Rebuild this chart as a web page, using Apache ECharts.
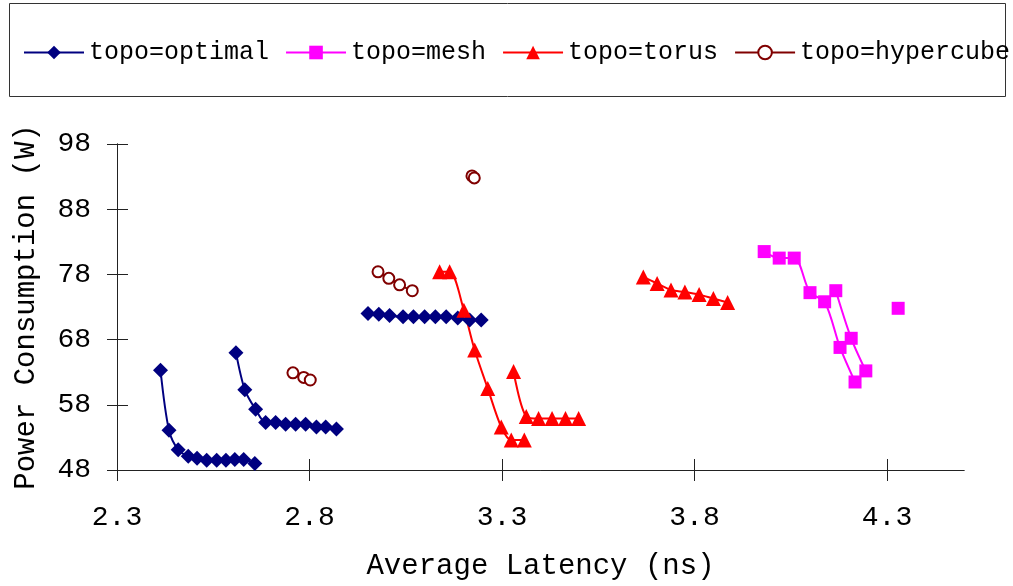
<!DOCTYPE html>
<html>
<head>
<meta charset="utf-8">
<script src="https://cdn.jsdelivr.net/npm/echarts@6/dist/echarts.min.js"></script>
<style>
  html, body { margin: 0; padding: 0; background: #fff; }
  #chart { width: 1013px; height: 586px; }
</style>
</head>
<body>
<div id="chart"></div>
<script>
// null in an x list = gap between line segments
const optimalX = [2.413, 2.435, 2.459, 2.485, 2.508, 2.533, 2.559, 2.583, 2.606, 2.629, 2.658, null,
  2.609, 2.632, 2.660, 2.686, 2.712, 2.738, 2.764, 2.790, 2.818, 2.842, 2.870, null,
  2.952, 2.980, 3.008, 3.043, 3.070, 3.099, 3.127, 3.155, 3.185, 3.216, 3.246]
const optimalY = [63.3, 54.1, 51.1, 50.1, 49.8, 49.5, 49.5, 49.5, 49.6, 49.6, 49.0, null,
  66.0, 60.3, 57.3, 55.3, 55.3, 55.0, 55.0, 55.0, 54.6, 54.6, 54.3, null,
  72.0, 71.9, 71.7, 71.5, 71.5, 71.5, 71.5, 71.5, 71.3, 71.0, 71.0]

const meshX = [3.981, 4.020, 4.059, 4.100, 4.138, 4.178, 4.217, null,
  4.167, 4.207, 4.245, null, 4.329]
const meshY = [81.5, 80.5, 80.5, 75.2, 73.8, 66.8, 61.5, null,
  75.5, 68.2, 63.2, null, 72.8]

const torusX = [3.138, 3.164, 3.201, 3.229, 3.263, 3.298, 3.324, 3.358, null,
  3.330, 3.363, 3.395, 3.430, 3.465, 3.499, null,
  3.667, 3.703, 3.739, 3.775, 3.812, 3.849, 3.886]
const torusY = [78.4, 78.4, 72.5, 66.4, 60.5, 54.6, 52.6, 52.6, null,
  63.1, 56.2, 55.9, 55.9, 55.9, 55.9, null,
  77.6, 76.6, 75.6, 75.3, 74.9, 74.3, 73.7]

const hyperX = [2.757, 2.785, 2.802, null, 2.978, 3.006, 3.034, 3.067, null, 3.222, 3.228]
const hyperY = [62.9, 62.2, 61.8, null, 78.4, 77.4, 76.4, 75.5, null, 93.1, 92.8]

const xTicks = [2.3, 2.8, 3.3, 3.8, 4.3]
const yTicks = [48, 58, 68, 78, 88, 98]

const FONT = '"Liberation Mono", monospace'

function pairs(xs, ys) {
  return xs.map((x, i) => x == null ? ['-', '-'] : [x, ys[i]])
}

function line(name, color, symbol, size, xs, ys) {
  return {
    name: name,
    type: 'line',
    smooth: 0.3,
    connectNulls: false,
    symbol: symbol,
    symbolSize: size,
    lineStyle: { color: color, width: 2 },
    itemStyle: symbol === 'emptyCircle'
      ? { color: color, borderWidth: 2 }
      : { color: color },
    data: pairs(xs, ys),
    animation: false
  }
}

const axisLine = { lineStyle: { color: '#222', width: 1 } }

const chart = echarts.init(document.getElementById('chart'))
chart.setOption({
  backgroundColor: '#fff',
  textStyle: { fontFamily: FONT, color: '#000' },
  graphic: [{
    type: 'rect',
    shape: { x: 9.5, y: 3.5, width: 996, height: 93 },
    style: { fill: 'none', stroke: '#333', lineWidth: 1 },
    silent: true
  }],
  legend: {
    left: 18,
    top: 35,
    width: 1000,
    itemWidth: 60,
    itemHeight: 17,
    itemGap: 16,
    textStyle: { fontFamily: FONT, fontSize: 25, color: '#000' },
    data: ['topo=optimal', 'topo=mesh', 'topo=torus', 'topo=hypercube']
  },
  grid: { left: 117, top: 144, right: 49, bottom: 116, containLabel: false },
  xAxis: [{
    type: 'value',
    min: 2.3,
    max: 4.5,
    interval: 0.5,
    name: 'Average Latency (ns)',
    nameLocation: 'middle',
    nameGap: 82,
    nameTextStyle: { fontFamily: FONT, fontSize: 29, color: '#000' },
    axisLine: axisLine,
    axisTick: { show: true, length: 11, customValues: xTicks, lineStyle: { color: '#222' } },
    axisLabel: {
      customValues: xTicks, margin: 34,
      fontFamily: FONT, fontSize: 28, color: '#000',
      formatter: v => v.toFixed(1)
    },
    splitLine: { show: false }
  }, {
    type: 'value',
    position: 'bottom',
    min: 2.3,
    max: 4.5,
    axisLine: axisLine,
    axisTick: { show: true, inside: true, length: 11, customValues: xTicks, lineStyle: { color: '#222' } },
    axisLabel: { show: false },
    splitLine: { show: false }
  }],
  yAxis: [{
    type: 'value',
    min: 48,
    max: 98,
    interval: 10,
    name: 'Power Consumption (W)',
    nameLocation: 'middle',
    nameGap: 76,
    nameTextStyle: { fontFamily: FONT, fontSize: 29, color: '#000' },
    axisLine: { show: true, lineStyle: { color: '#222', width: 1 } },
    axisTick: { show: true, length: 10, customValues: yTicks, lineStyle: { color: '#222' } },
    axisLabel: { customValues: yTicks, margin: 26, fontFamily: FONT, fontSize: 28, color: '#000' },
    splitLine: { show: false }
  }, {
    type: 'value',
    position: 'left',
    min: 48,
    max: 98,
    interval: 10,
    axisLine: { show: true, lineStyle: { color: '#222', width: 1 } },
    axisTick: { show: true, inside: true, length: 11, customValues: yTicks, lineStyle: { color: '#222' } },
    axisLabel: { show: false },
    splitLine: { show: false }
  }],
  series: [
    line('topo=optimal', '#000080', 'diamond', 15, optimalX, optimalY),
    line('topo=mesh', '#FF00FF', 'rect', 13, meshX, meshY),
    line('topo=torus', '#FF0000', 'triangle', 15, torusX, torusY),
    line('topo=hypercube', '#800000', 'emptyCircle', 11, hyperX, hyperY)
  ]
})
</script>
</body>
</html>
